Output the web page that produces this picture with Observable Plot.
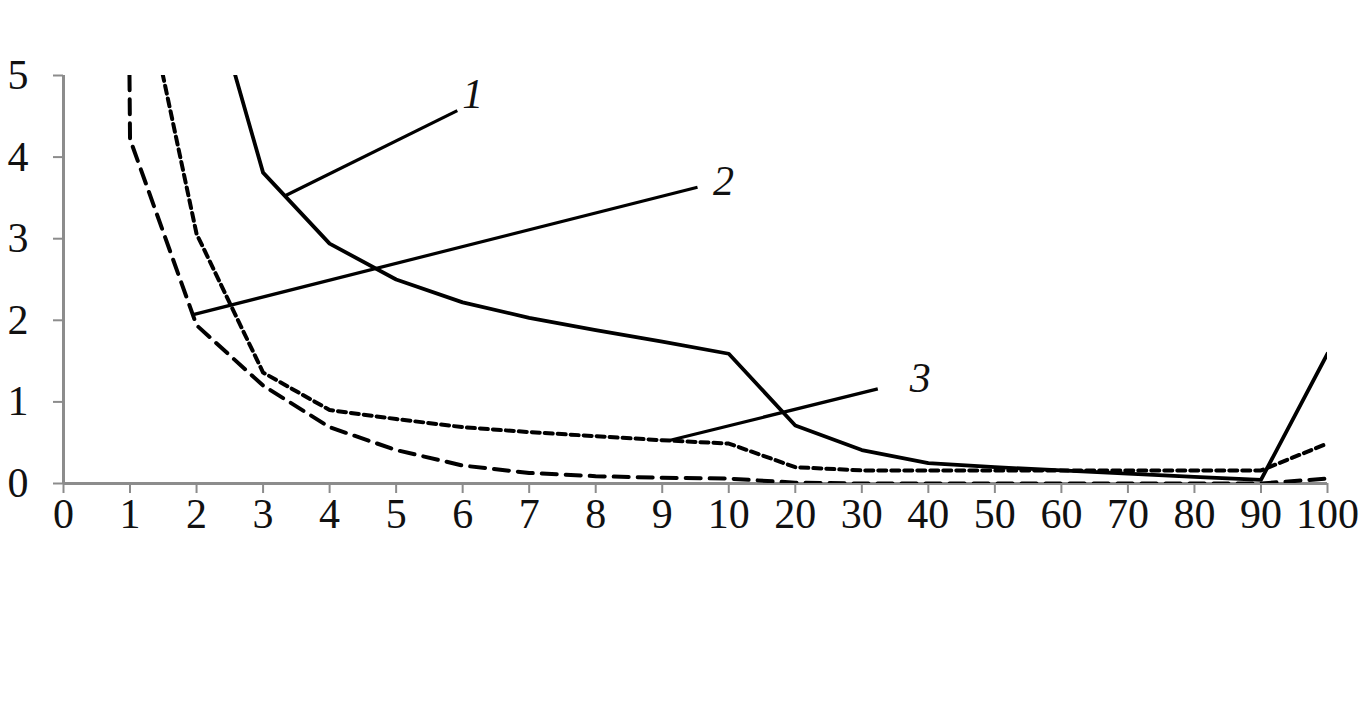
<!DOCTYPE html>
<html>
<head>
<meta charset="utf-8">
<script src="https://cdn.jsdelivr.net/npm/d3@7"></script>
<script src="https://cdn.jsdelivr.net/npm/@observablehq/plot@0.6"></script>
<style>
  html, body { margin: 0; padding: 0; background: #fff; }
  #chart svg { display: block; }
  #chart svg, #chart svg text { font-family: "Liberation Serif", "Times New Roman", serif !important; }
</style>
</head>
<body>
<div id="chart"></div>
<script>
// Category tick labels (equally spaced on the x axis)
const xLabels = ["0","1","2","3","4","5","6","7","8","9","10","20","30","40","50","60","70","80","90","100"];
const yTicks = [0, 1, 2, 3, 4, 5];

// Series values (null = not plotted)
const series1 = [null, 12, 6.66, 3.81, 2.94, 2.5, 2.22, 2.03, 1.88, 1.74, 1.59, 0.71, 0.41, 0.25, 0.2, 0.16, 0.12, 0.08, 0.045, 1.59]; // solid
const series2 = [100, 4.22, 1.94, 1.2, 0.69, 0.41, 0.22, 0.13, 0.09, 0.07, 0.06, 0.01, 0, 0, 0, 0, 0, 0, 0, 0.06]; // long dash
const series3 = [null, 6.9, 3.06, 1.36, 0.9, 0.79, 0.69, 0.63, 0.58, 0.53, 0.49, 0.2, 0.16, 0.16, 0.16, 0.16, 0.16, 0.16, 0.16, 0.49]; // short dash

// Curve labels and leader lines (x in category-index units, y in value units)
const labelNames = ["1", "2", "3"];
const leaderFromX = [3.34, 1.95, 9.12];
const leaderFromY = [3.53, 2.07, 0.53];
const leaderToX = [5.92, 9.53, 12.24];
const leaderToY = [4.57, 3.63, 1.16];
const labelX = [6.15, 9.92, 12.88];
const labelY = [4.77, 3.7, 1.29];

const toRows = (vals) => vals.map((v, i) => ({i, v})).filter(d => d.v != null);
const leaders = labelNames.map((n, k) => ({x1: leaderFromX[k], y1: leaderFromY[k], x2: leaderToX[k], y2: leaderToY[k]}));
const labels = labelNames.map((n, k) => ({x: labelX[k], y: labelY[k], t: n}));

const axisColor = "#8c8c8c";
const FS = 42;

const chart = Plot.plot({
  width: 1367,
  height: 702,
  marginLeft: 63,
  marginRight: 40,
  marginTop: 75,
  marginBottom: 219,
  style: {fontSize: FS + "px", color: "#111", background: "#fff"},
  x: {type: "linear", domain: [0, 19], axis: null},
  y: {type: "linear", domain: [0, 5], axis: null},
  marks: [
    // axis lines
    Plot.ruleX([0], {y1: 0, y2: 5, stroke: axisColor, strokeWidth: 3}),
    Plot.ruleY([0], {x1: 0, x2: 19, stroke: axisColor, strokeWidth: 3}),
    // ticks + labels
    Plot.axisY(yTicks, {tickSize: 10, tickPadding: 25, stroke: axisColor, strokeWidth: 2, fontSize: FS, fill: "#111", tickFormat: d => String(d), label: null}),
    Plot.axisX(d3.range(0, 20), {tickSize: 10, tickPadding: 5, stroke: axisColor, strokeWidth: 2, fontSize: FS, fill: "#111", tickFormat: i => xLabels[i], label: null}),
    // series
    Plot.line(toRows(series3), {x: "i", y: "v", stroke: "#000", strokeWidth: 4, strokeDasharray: "8,5", clip: true}),
    Plot.line(toRows(series2), {x: "i", y: "v", stroke: "#000", strokeWidth: 4, strokeDasharray: "15,9", clip: true}),
    Plot.line(toRows(series1), {x: "i", y: "v", stroke: "#000", strokeWidth: 3.8, clip: true}),
    // leader lines
    Plot.link(leaders, {x1: "x1", y1: "y1", x2: "x2", y2: "y2", stroke: "#000", strokeWidth: 3.2}),
    Plot.text(labels, {x: "x", y: "y", text: "t", fontStyle: "italic", fontSize: FS, fill: "#111", textAnchor: "middle"})
  ]
});
document.getElementById("chart").appendChild(chart);
</script>
</body>
</html>
